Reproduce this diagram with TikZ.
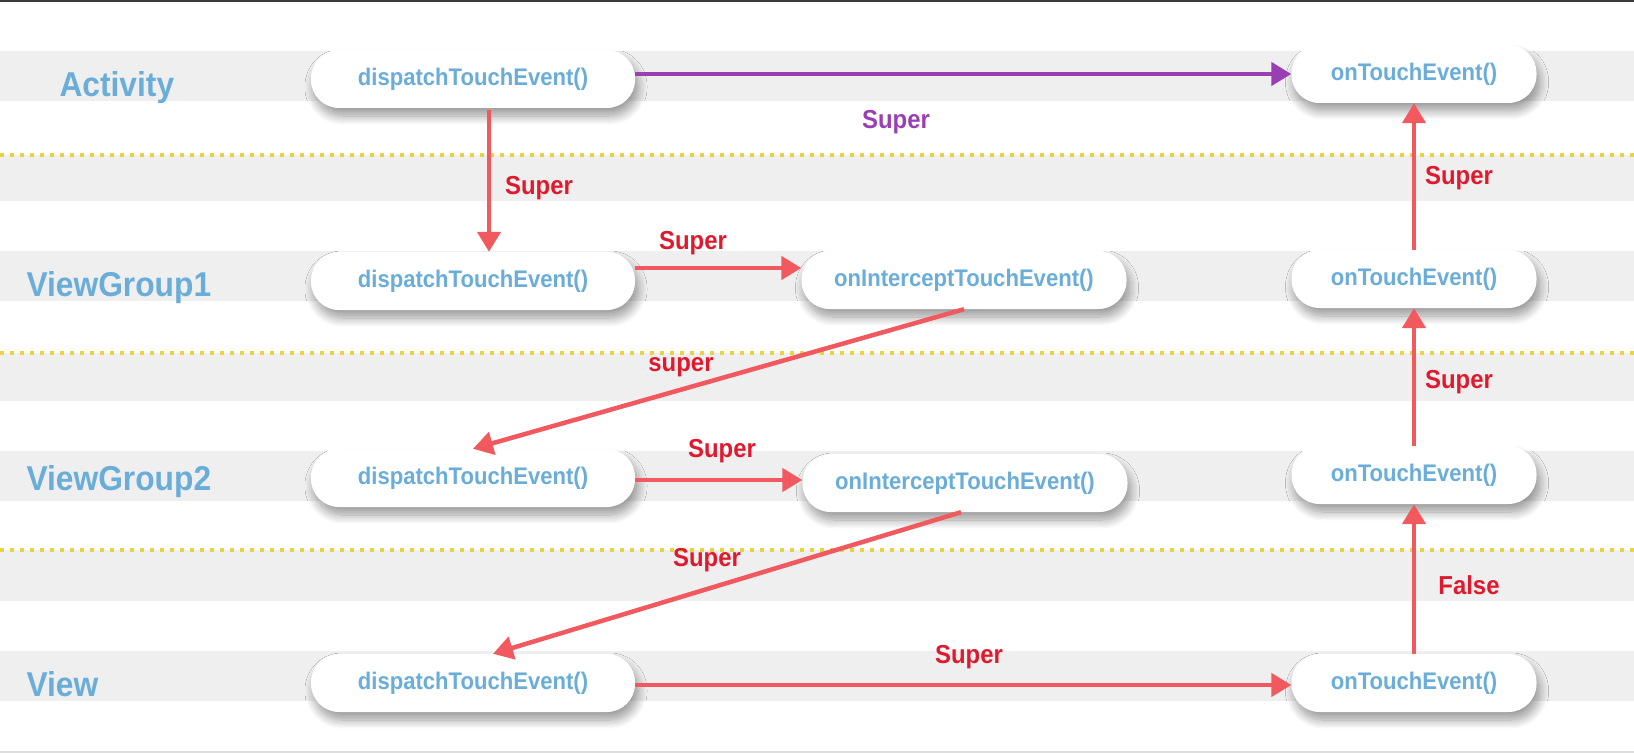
\documentclass[tikz,border=0pt]{standalone}
\usepackage{fontspec}
\setmainfont{Liberation Sans}[FakeStretch=0.92]
\usetikzlibrary{arrows.meta,shadows.blur}
\definecolor{lanegrey}{HTML}{EFEFEF}
\definecolor{callblue}{HTML}{6AADD9}
\definecolor{arrowred}{HTML}{F2595F}
\definecolor{labelred}{HTML}{E01A2E}
\definecolor{callpurple}{HTML}{9A3EB4}
\definecolor{dotyellow}{HTML}{E8D443}
\definecolor{edgegrey}{HTML}{3A3A3A}
\definecolor{footgrey}{HTML}{DDDDDD}

\begin{document}
\begin{tikzpicture}[x=1pt,y=-1pt,
    call/.style={fill=white,rounded corners=28pt,minimum height=58pt,
        inner sep=0pt,text=callblue,font=\bfseries\fontsize{24}{28}\selectfont,
        blur shadow={shadow xshift=3pt,shadow yshift=-8pt,
            shadow blur radius=9pt,shadow blur steps=12,shadow opacity=40}},
    dispatchcall/.style={call,minimum width=324pt},
    interceptcall/.style={call,minimum width=325pt},
    touchcall/.style={call,minimum width=245pt},
    lane/.style={anchor=base west,text=callblue,
        font=\bfseries\fontsize{34.5}{40}\selectfont},
    lbl/.style={text=labelred,font=\bfseries\fontsize{26}{30}\selectfont},
    flow/.style={draw=arrowred,line width=4.5pt,
        -{Triangle[length=20pt,width=23pt]}}]
\useasboundingbox (0,0) rectangle (1634,754);

% lanes
\foreach \t/\b in {
    51/101,
    155/201,
    251/301,
    353/401,
    451/501,
    550/601,
    651/701
}
{
    \fill[lanegrey] (0,\t) rectangle (1634,\b);
}
\foreach \y in {155,353,550}
{
    \draw[dotyellow,line width=4pt,dash pattern=on 4pt off 6pt] (0,\y)--(1634,\y);
}
\draw[edgegrey,line width=2pt] (0,1)--(1634,1);
\draw[footgrey,line width=2pt] (0,752)--(1634,752);

\node[lane] (activity) at (56,97) {Activity};
\node[lane] (viewgroup1) at (23,296) {ViewGroup1};
\node[lane] (viewgroup2) at (23,490) {ViewGroup2};
\node[lane] (view) at (23,696) {View};

% calls
\node[dispatchcall] (actD) at (473,79) {dispatchTouchEvent()};
\node[touchcall] (actT) at (1414,74) {onTouchEvent()};

\node[dispatchcall] (vg1D) at (473,281) {dispatchTouchEvent()};
\node[interceptcall] (vg1I) at (964,280) {onInterceptTouchEvent()};
\node[touchcall] (vg1T) at (1414,279) {onTouchEvent()};

\node[dispatchcall] (vg2D) at (473,478) {dispatchTouchEvent()};
\node[interceptcall] (vg2I) at (965,483) {onInterceptTouchEvent()};
\node[touchcall] (vg2T) at (1414,475) {onTouchEvent()};

\node[dispatchcall] (viewD) at (473,683) {dispatchTouchEvent()};
\node[touchcall] (viewT) at (1414,683) {onTouchEvent()};

% arrows
\draw[flow,draw=callpurple] (actD.east |- actT.west)--(actT.west);
\draw[flow,shorten <=2pt] ([xshift=16pt]actD.south)--([xshift=16pt]vg1D.north);
\draw[flow] ([yshift=13pt]vg1D.east)--([yshift=13pt]vg1D.east -| vg1I.west);
\draw[flow] (vg1I.south)--(vg2D.north);
\draw[flow] ([yshift=-2pt]vg2D.east)--([yshift=-2pt]vg2D.east -| vg2I.west);
\draw[flow] ([xshift=-4pt]vg2I.south)--([xshift=20pt]viewD.north);
\draw[flow] ([yshift=-2pt]viewD.east)--([yshift=-2pt]viewT.west);
\draw[flow] (viewT.north)--(vg2T.south);
\draw[flow] (vg2T.north)--(vg1T.south);
\draw[flow] (vg1T.north)--(actT.south);

\node[lbl,text=callpurple] (sA) at (896,122) {Super};
\node[lbl] (s1) at (539,188) {Super};
\node[lbl] (s2) at (693,243) {Super};
\node[lbl] (s3) at (681,367) {super};
\node[lbl] (s4) at (722,451) {Super};
\node[lbl] (s5) at (707,560) {Super};
\node[lbl] (s6) at (969,657) {Super};
\node[lbl] (s7) at (1469,585) {False};
\node[lbl] (s8) at (1459,382) {Super};
\node[lbl] (s9) at (1459,178) {Super};
\end{tikzpicture}
\end{document}
